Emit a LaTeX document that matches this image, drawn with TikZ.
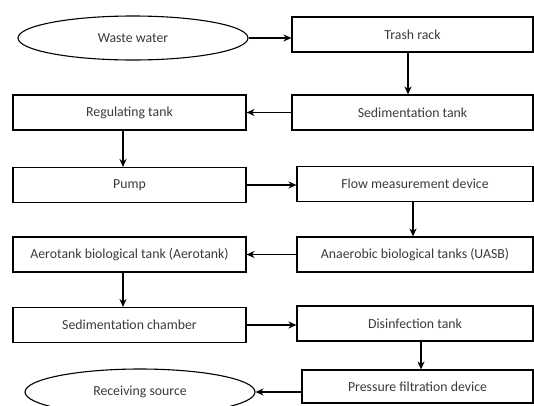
\documentclass[tikz,border=0pt]{standalone}
\usepackage{fontspec}
\setmainfont{Carlito}
\usepackage{tikz}
\usetikzlibrary{
arrows.meta,
positioning,
shapes.geometric
}
\definecolor{flowtext}{HTML}{3A3A3A}

\begin{document}
\begin{tikzpicture}[
  x=1pt, y=-1pt,
  stage/.style={draw, line width=1.1pt, minimum width=233pt, minimum height=35pt, inner sep=0pt, align=center, text=flowtext, font=\fontsize{13.8}{15}\selectfont},
  terminal/.style={stage, ellipse, minimum width=230pt, minimum height=44pt},
  flow/.style={line width=1.8pt},
  >={Stealth[length=8pt, width=7pt]}
]
  \clip (0,0) rectangle (534,405);

  % Left column
  \node[terminal] (ww) at (133, 38) {Waste water};
  \node[stage] (reg) at (129.5, 112.5) {Regulating tank};
  \node[stage] (pump) at (129.5, 185) {Pump};
  \node[stage] (aero) at (129.5, 254.5) {Aerotank biological tank (Aerotank)};
  \node[stage] (sedch) at (129.5, 325) {Sedimentation chamber};
  \node[terminal, minimum height=46pt] (recv) at (140, 392) {Receiving source};

  % Right column
  \node[stage, minimum width=241pt] (trash) at (412.5, 34.5) {Trash rack};
  \node[stage, minimum width=241pt] (sed) at (412.5, 112.5) {Sedimentation tank};
  \node[stage, minimum width=236pt] (meter) at (415, 184) {Flow measurement device};
  \node[stage, minimum width=236pt] (uasb) at (415, 254.5) {Anaerobic biological tanks (UASB)};
  \node[stage, minimum width=236pt] (dis) at (415, 323.5) {Disinfection tank};
  \node[stage, minimum width=231pt, minimum height=33pt] (press) at (417.5, 386.5) {Pressure filtration device};

  % Horizontal links
  \draw[flow, ->] (ww.east) -- (ww.east -| trash.west);
  \draw[flow, <-] (reg.east) -- (sed.west);
  \draw[flow, ->] (pump.east) -- (pump.east -| meter.west);
  \draw[flow, <-] (uasb.west -| aero.east) -- (uasb.west);
  \draw[flow, ->] (sedch.east) -- (sedch.east -| dis.west);
  \draw[flow, <-] (recv.east) -- ([yshift=-5.5pt]press.west);

  % Vertical links
  \draw[flow, ->] ([xshift=-4.5pt]trash.south) -- ([xshift=-4.5pt]sed.north);
  \draw[flow, ->] ([xshift=-6.5pt]reg.south) -- ([xshift=-6.5pt]pump.north);
  \draw[flow, ->] ([xshift=-2pt]meter.south) -- ([xshift=-2pt]uasb.north);
  \draw[flow, ->] ([xshift=-6.5pt]aero.south) -- ([xshift=-6.5pt]sedch.north);
  \draw[flow, ->] ([xshift=6pt]dis.south) -- ([xshift=3.5pt]press.north);

\end{tikzpicture}
\end{document}
